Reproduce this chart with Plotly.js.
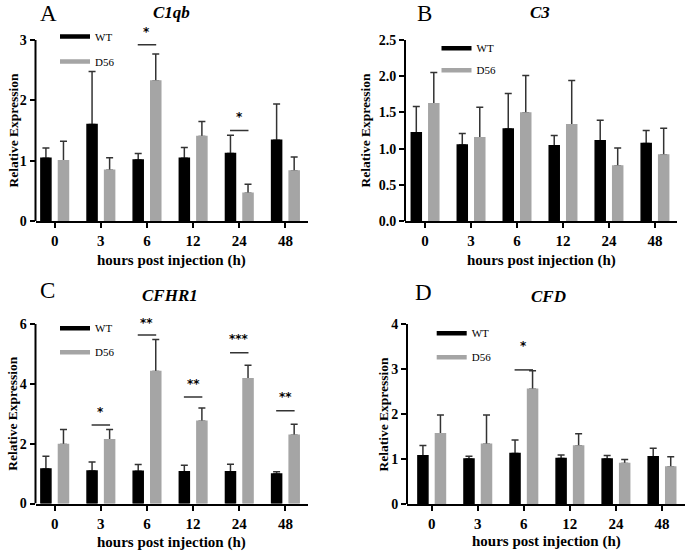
<!DOCTYPE html>
<html><head><meta charset="utf-8">
<script src="https://cdn.plot.ly/plotly-3.0.1.min.js"></script>
<style>html,body{margin:0;padding:0;background:#fff}#chart{width:685px;height:552px}</style>
</head><body><div id="chart"></div>
<script>
// ---------------- data ----------------
const hours = ['0', '3', '6', '12', '24', '48'];
const seriesNames = ['WT', 'D56'];

// C1qb
const c1qbWT = [1.04, 1.60, 1.01, 1.04, 1.12, 1.34];
const c1qbWTErr = [0.17, 0.88, 0.11, 0.18, 0.30, 0.60];
const c1qbD56 = [1.00, 0.84, 2.32, 1.40, 0.46, 0.83];
const c1qbD56Err = [0.32, 0.21, 0.45, 0.25, 0.15, 0.23];
const c1qbSigIdx = [2, 4];
const c1qbSigLine = [2.92, 1.50];
const c1qbSigStar = [3.19, 1.77];
const c1qbSigText = ['*', '*'];
const c1qbYTicks = [0, 1, 2, 3];
const c1qbYTickText = ['0', '1', '2', '3'];

// C3
const c3WT = [1.22, 1.05, 1.27, 1.04, 1.11, 1.07];
const c3WTErr = [0.36, 0.16, 0.49, 0.14, 0.28, 0.18];
const c3D56 = [1.62, 1.15, 1.49, 1.33, 0.76, 0.91];
const c3D56Err = [0.43, 0.42, 0.52, 0.61, 0.25, 0.37];
const c3SigIdx = [];
const c3SigLine = [];
const c3SigStar = [];
const c3SigText = [];
const c3YTicks = [0, 0.5, 1.0, 1.5, 2.0, 2.5];
const c3YTickText = ['0.0', '0.5', '1.0', '1.5', '2.0', '2.5'];

// CFHR1
const cfhr1WT = [1.15, 1.09, 1.08, 1.06, 1.06, 0.99];
const cfhr1WTErr = [0.43, 0.30, 0.22, 0.22, 0.25, 0.07];
const cfhr1D56 = [1.97, 2.13, 4.41, 2.75, 4.17, 2.28];
const cfhr1D56Err = [0.50, 0.34, 1.07, 0.44, 0.45, 0.37];
const cfhr1SigIdx = [1, 2, 3, 4, 5];
const cfhr1SigLine = [2.62, 5.63, 3.56, 5.04, 3.10];
const cfhr1SigStar = [3.16, 6.15, 4.10, 5.60, 3.65];
const cfhr1SigText = ['*', '**', '**', '***', '**'];
const cfhr1YTicks = [0, 2, 4, 6];
const cfhr1YTickText = ['0', '2', '4', '6'];

// CFD
const cfdWT = [1.07, 1.00, 1.12, 1.01, 1.00, 1.05];
const cfdWTErr = [0.23, 0.06, 0.30, 0.08, 0.08, 0.19];
const cfdD56 = [1.56, 1.33, 2.55, 1.29, 0.90, 0.82];
const cfdD56Err = [0.42, 0.65, 0.41, 0.27, 0.09, 0.23];
const cfdSigIdx = [2];
const cfdSigLine = [2.98];
const cfdSigStar = [3.58];
const cfdSigText = ['*'];
const cfdYTicks = [0, 1, 2, 3, 4];
const cfdYTickText = ['0', '1', '2', '3', '4'];

// ---------------- layout helpers ----------------
const W = 685, H = 552;
const px2x = p => p / W;
const px2y = p => 1 - p / H;
const FONT = 'Liberation Serif, Times New Roman, serif';
const STAR_FONT = 'DejaVu Sans, Liberation Sans, sans-serif';
const WT_COLOR = '#000000';
const D56_COLOR = '#a5a5a5';
const ERR_COLOR = '#333333';

const panels = [
  {letter: 'A', gene: 'C1qb', wt: c1qbWT, wtErr: c1qbWTErr, d56: c1qbD56, d56Err: c1qbD56Err,
   sigIdx: c1qbSigIdx, sigLine: c1qbSigLine, sigStar: c1qbSigStar, sigText: c1qbSigText,
   yTicks: c1qbYTicks, yTickText: c1qbYTickText, yTop: 3.4,
   xL: 35.5, xR: 308, y0: 221, yMaxPx: 40, xRange: [-0.416, 5.49],
   letterPos: [49, 0], genePos: [171, 12.5], yTitleX: 13, xTitleY: 260,
   legX: 55, legY: 22, legGap: 6},
  {letter: 'B', gene: 'C3', wt: c3WT, wtErr: c3WTErr, d56: c3D56, d56Err: c3D56Err,
   sigIdx: c3SigIdx, sigLine: c3SigLine, sigStar: c3SigStar, sigText: c3SigText,
   yTicks: c3YTicks, yTickText: c3YTickText, yTop: 2.5,
   xL: 405, xR: 677, y0: 221, yMaxPx: 40, xRange: [-0.436, 5.48],
   letterPos: [424.5, 0], genePos: [539.5, 13], yTitleX: 365, xTitleY: 260,
   legX: 436.5, legY: 33.7, legGap: 3},
  {letter: 'C', gene: 'CFHR1', wt: cfhr1WT, wtErr: cfhr1WTErr, d56: cfhr1D56, d56Err: cfhr1D56Err,
   sigIdx: cfhr1SigIdx, sigLine: cfhr1SigLine, sigStar: cfhr1SigStar, sigText: cfhr1SigText,
   yTicks: cfhr1YTicks, yTickText: cfhr1YTickText, yTop: 6.5,
   xL: 35.5, xR: 308, y0: 503.5, yMaxPx: 324, xRange: [-0.416, 5.49],
   letterPos: [47.5, 277], genePos: [170, 295], yTitleX: 13, xTitleY: 542,
   legX: 55, legY: 313.7, legGap: 5},
  {letter: 'D', gene: 'CFD', wt: cfdWT, wtErr: cfdWTErr, d56: cfdD56, d56Err: cfdD56Err,
   sigIdx: cfdSigIdx, sigLine: cfdSigLine, sigStar: cfdSigStar, sigText: cfdSigText,
   yTicks: cfdYTicks, yTickText: cfdYTickText, yTop: 4,
   xL: 407, xR: 685, y0: 504, yMaxPx: 324, xRange: [-0.536, 5.5],
   letterPos: [423.5, 279], genePos: [548.5, 296], yTitleX: 382.5, xTitleY: 541,
   legX: 431.7, legY: 318.7, legGap: 5}
];

const xIdx = hours.map((h, i) => i);
const zeros = hours.map(() => 0);
const data = [];
const layout = {
  width: W, height: H,
  margin: {l: 0, r: 0, t: 0, b: 0},
  paper_bgcolor: '#ffffff', plot_bgcolor: 'rgba(0,0,0,0)',
  barmode: 'group', bargap: 0.239, bargroupgap: 0.4286,
  font: {family: FONT, color: '#000'},
  showlegend: true,
  shapes: [], annotations: []
};

panels.forEach((p, k) => {
  const n = k === 0 ? '' : String(k + 1);
  const xa = 'x' + n, ya = 'y' + n;
  const tickMax = p.yTicks[p.yTicks.length - 1];
  const topPx = p.y0 - (p.y0 - p.yMaxPx) * p.yTop / tickMax;
  const legName = k === 0 ? 'legend' : 'legend' + (k + 1);

  // error-bar carriers (drawn first so the bars cover the lower caps)
  [[p.wt, p.wtErr, 'wt'], [p.d56, p.d56Err, 'd56']].forEach(([vals, errs, g]) => {
    data.push({type: 'bar', x: xIdx, y: vals, xaxis: xa, yaxis: ya, offsetgroup: g,
      marker: {color: 'rgba(0,0,0,0)'}, showlegend: false, hoverinfo: 'skip',
      error_y: {type: 'data', symmetric: false, array: errs, arrayminus: zeros,
        color: ERR_COLOR, thickness: 1.5, width: 3.5}});
  });
  data.push({type: 'bar', name: seriesNames[0], x: xIdx, y: p.wt, xaxis: xa, yaxis: ya, offsetgroup: 'wt',
    marker: {color: WT_COLOR, line: {color: WT_COLOR, width: 1.5}}, showlegend: false});
  data.push({type: 'bar', name: seriesNames[1], x: xIdx, y: p.d56, xaxis: xa, yaxis: ya, offsetgroup: 'd56',
    marker: {color: D56_COLOR, line: {color: D56_COLOR, width: 1.5}}, showlegend: false});
  // legend entries
  [[seriesNames[0], WT_COLOR], [seriesNames[1], D56_COLOR]].forEach(([nm, c], j) => {
    data.push({type: 'scatter', mode: 'lines', name: nm, x: [null], y: [null], xaxis: xa, yaxis: ya,
      line: {color: c, width: 4.5}, legend: legName, legendgroup: 'g' + k + j, hoverinfo: 'skip'});
  });

  layout['xaxis' + n] = {
    domain: [px2x(p.xL), px2x(p.xR)], anchor: ya, range: p.xRange, type: 'linear',
    tickvals: xIdx, ticktext: hours, showline: true, linewidth: 2, linecolor: '#000',
    ticks: 'outside', ticklen: 5, tickwidth: 2, tickcolor: '#000',
    showgrid: false, zeroline: false, fixedrange: true,
    tickfont: {family: FONT, size: 15, weight: 'bold', color: '#000'}
  };
  layout['yaxis' + n] = {
    domain: [px2y(p.y0), px2y(topPx)], anchor: xa, range: [0, p.yTop],
    tickvals: p.yTicks, ticktext: p.yTickText, showline: false,
    ticks: 'outside', ticklen: 5, tickwidth: 2, tickcolor: '#000',
    showgrid: false, zeroline: false, fixedrange: true,
    tickfont: {family: FONT, size: 14, weight: 'bold', color: '#000'}
  };
  layout[legName] = {
    x: px2x(p.legX), y: px2y(p.legY), xanchor: 'left', yanchor: 'top',
    bgcolor: 'rgba(0,0,0,0)', borderwidth: 0, tracegroupgap: p.legGap,
    font: {family: FONT, size: 11, color: '#000'}
  };

  // y axis line up to the last tick
  layout.shapes.push({type: 'line', xref: xa + ' domain', yref: ya, x0: 0, x1: 0, y0: 0, y1: tickMax,
    line: {color: '#000', width: 2}});
  // significance bars
  p.sigIdx.forEach((ix, j) => {
    layout.shapes.push({type: 'line', xref: xa, yref: ya, x0: ix - 0.2, x1: ix + 0.2,
      y0: p.sigLine[j], y1: p.sigLine[j], line: {color: ERR_COLOR, width: 1.5}});
    layout.annotations.push({xref: xa, yref: ya, x: ix, y: p.sigStar[j], text: p.sigText[j],
      showarrow: false, yshift: -3, opacity: 0.99,
      font: {family: STAR_FONT, size: 12, weight: 'bold', color: '#000'}});
  });
  // panel letter and gene title
  layout.annotations.push({xref: 'paper', yref: 'paper', x: px2x(p.letterPos[0]), y: px2y(p.letterPos[1]),
    text: p.letter, showarrow: false, xanchor: 'center', yanchor: 'top', borderpad: 0,
    font: {family: FONT, size: 23, color: '#000'}});
  layout.annotations.push({xref: 'paper', yref: 'paper', x: px2x(p.genePos[0]), y: px2y(p.genePos[1]),
    text: p.gene, showarrow: false, xanchor: 'center', yanchor: 'middle',
    font: {family: FONT, size: 17, weight: 'bold', style: 'italic', color: '#000'}});
  // axis titles
  layout.annotations.push({xref: 'paper', yref: ya, x: px2x(p.yTitleX), y: tickMax / 2,
    text: 'Relative Expression', textangle: -90, showarrow: false, xanchor: 'center', yanchor: 'middle',
    font: {family: FONT, size: 13.5, weight: 'bold', color: '#000'}});
  layout.annotations.push({xref: xa + ' domain', yref: 'paper', x: 0.5, y: px2y(p.xTitleY),
    text: 'hours post injection (h)', showarrow: false, xanchor: 'center', yanchor: 'middle',
    font: {family: FONT, size: 15, weight: 'bold', color: '#000'}});
});

Plotly.newPlot('chart', data, layout, {staticPlot: true, displayModeBar: false});
</script>
</body></html>
